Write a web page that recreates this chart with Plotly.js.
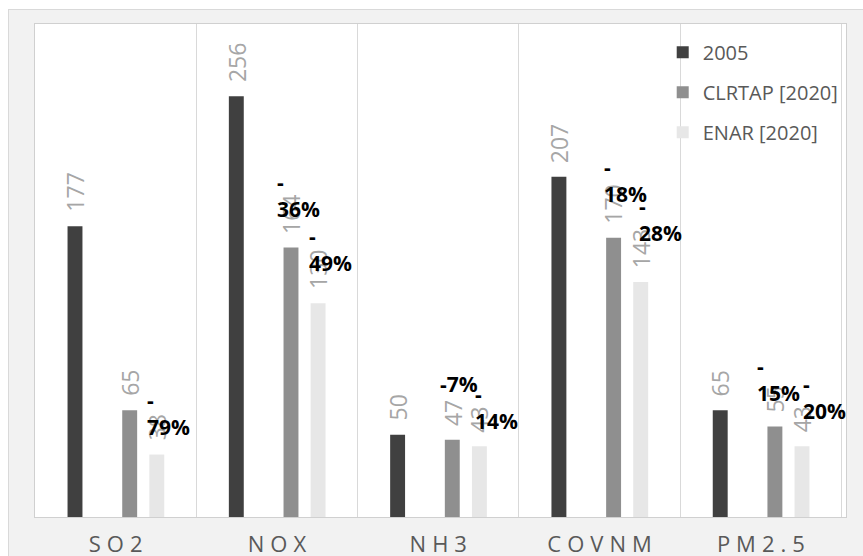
<!DOCTYPE html>
<html><head><meta charset="utf-8">
<script src="https://cdn.plot.ly/plotly-3.0.1.min.js"></script>
<style>
html,body{margin:0;padding:0;background:#fff;width:863px;height:556px;overflow:hidden;}
#frame{position:absolute;left:8px;top:9px;width:855px;height:547px;box-sizing:border-box;border-left:1px solid #d9d9d9;border-top:1px solid #d9d9d9;background:#f2f2f2;}
#chart{position:absolute;left:9px;top:10px;width:854px;height:546px;}
#chart .xtick text{letter-spacing:6px;}
</style></head>
<body><div id="frame"></div><div id="chart"></div>
<script>
// ---- data ----
const categories = ['SO2', 'NOX', 'NH3', 'COVNM', 'PM2.5'];
const seriesNames = ['2005', 'CLRTAP [2020]', 'ENAR [2020]'];
const values2005 = [177, 256, 50, 207, 65];
const valuesCLRTAP = [65, 164, 47, 170, 55];
const valuesENAR = [38, 130, 43, 143, 43];
const pctCLRTAP = [null, '-36%', '-7%', '-18%', '-15%'];
const pctENAR = ['-79%', '-49%', '-14%', '-28%', '-20%'];

// ---- style ----
const colors = ['#404040', '#8f8f8f', '#e7e7e7'];
const slot = [-0.252, 0.087, 0.255];   // bar centres within a category
const barW = 0.0925;
// percent label placement (pixels): [dx, dy, wrapped]
const pctStyleCLRTAP = [null, [-14, 24, true], [-12, 42, false], [-10, 30, true], [-18, 20, true]];
const pctStyleENAR = [[-10, 14, true], [-9, 26, true], [-4, 11, true], [-2, 35, true], [1, 21, true]];

const seriesValues = [values2005, valuesCLRTAP, valuesENAR];
const traces = seriesValues.map((vals, s) => ({
  type: 'bar',
  name: seriesNames[s],
  x: categories,
  y: vals,
  width: barW,
  offset: slot[s] - barW / 2,
  marker: {color: colors[s]},
  legendgroup: 'g' + s,
  hoverinfo: 'skip'
}));

const annotations = [];
seriesValues.forEach((vals, s) => {
  vals.forEach((v, i) => {
    annotations.push({
      x: i + slot[s], y: v, xref: 'x', yref: 'y',
      text: String(v), textangle: -90, showarrow: false,
      xanchor: 'center', yanchor: 'bottom', yshift: 14,
      borderpad: 0, borderwidth: 0,
      font: {family: 'Open Sans', size: 23, color: '#a6a6a6'}
    });
  });
});
[[pctCLRTAP, pctStyleCLRTAP, 1], [pctENAR, pctStyleENAR, 2]].forEach(([labels, st, s]) => {
  labels.forEach((lab, i) => {
    if (!lab) return;
    const [dx, dy, wrap] = st[i];
    annotations.push({
      x: i + slot[s], y: seriesValues[s][i], xref: 'x', yref: 'y',
      text: wrap ? lab.replace('-', '-<br>') : lab,
      showarrow: false, align: 'left',
      xanchor: 'left', yanchor: 'bottom', xshift: dx, yshift: dy,
      borderpad: 0, borderwidth: 0,
      font: {family: 'Open Sans', size: 21, color: '#000000', weight: 'bold'}
    });
  });
});

const layout = {
  width: 854, height: 546,
  margin: {l: 26, r: 17, t: 14, b: 39, pad: 0},
  paper_bgcolor: '#f2f2f2',
  plot_bgcolor: '#ffffff',
  barmode: 'overlay',
  showlegend: true,
  legend: {
    x: 0.774, y: 0.982, xanchor: 'left', yanchor: 'top',
    bgcolor: 'rgba(0,0,0,0)', borderwidth: 0,
    traceorder: 'grouped', tracegroupgap: 11,
    font: {family: 'Open Sans', size: 20, color: '#595959'}
  },
  xaxis: {
    type: 'category',
    tickson: 'boundaries',
    showgrid: true, gridcolor: '#d9d9d9', gridwidth: 1,
    showline: true, linecolor: '#d0d0d0', linewidth: 1, mirror: true,
    ticks: '', ticklen: 0,
    ticklabelstandoff: 8, ticklabelshift: 3,
    tickfont: {family: 'Open Sans', size: 22, color: '#595959'},
    zeroline: false, fixedrange: true
  },
  yaxis: {
    range: [0, 300],
    showgrid: false, zeroline: false, showticklabels: false, ticks: '',
    showline: true, linecolor: '#d0d0d0', linewidth: 1, mirror: true,
    fixedrange: true
  },
  annotations: annotations,
  font: {family: 'Open Sans'}
};

Plotly.newPlot('chart', traces, layout, {displayModeBar: false, staticPlot: true});
</script>
</body></html>
